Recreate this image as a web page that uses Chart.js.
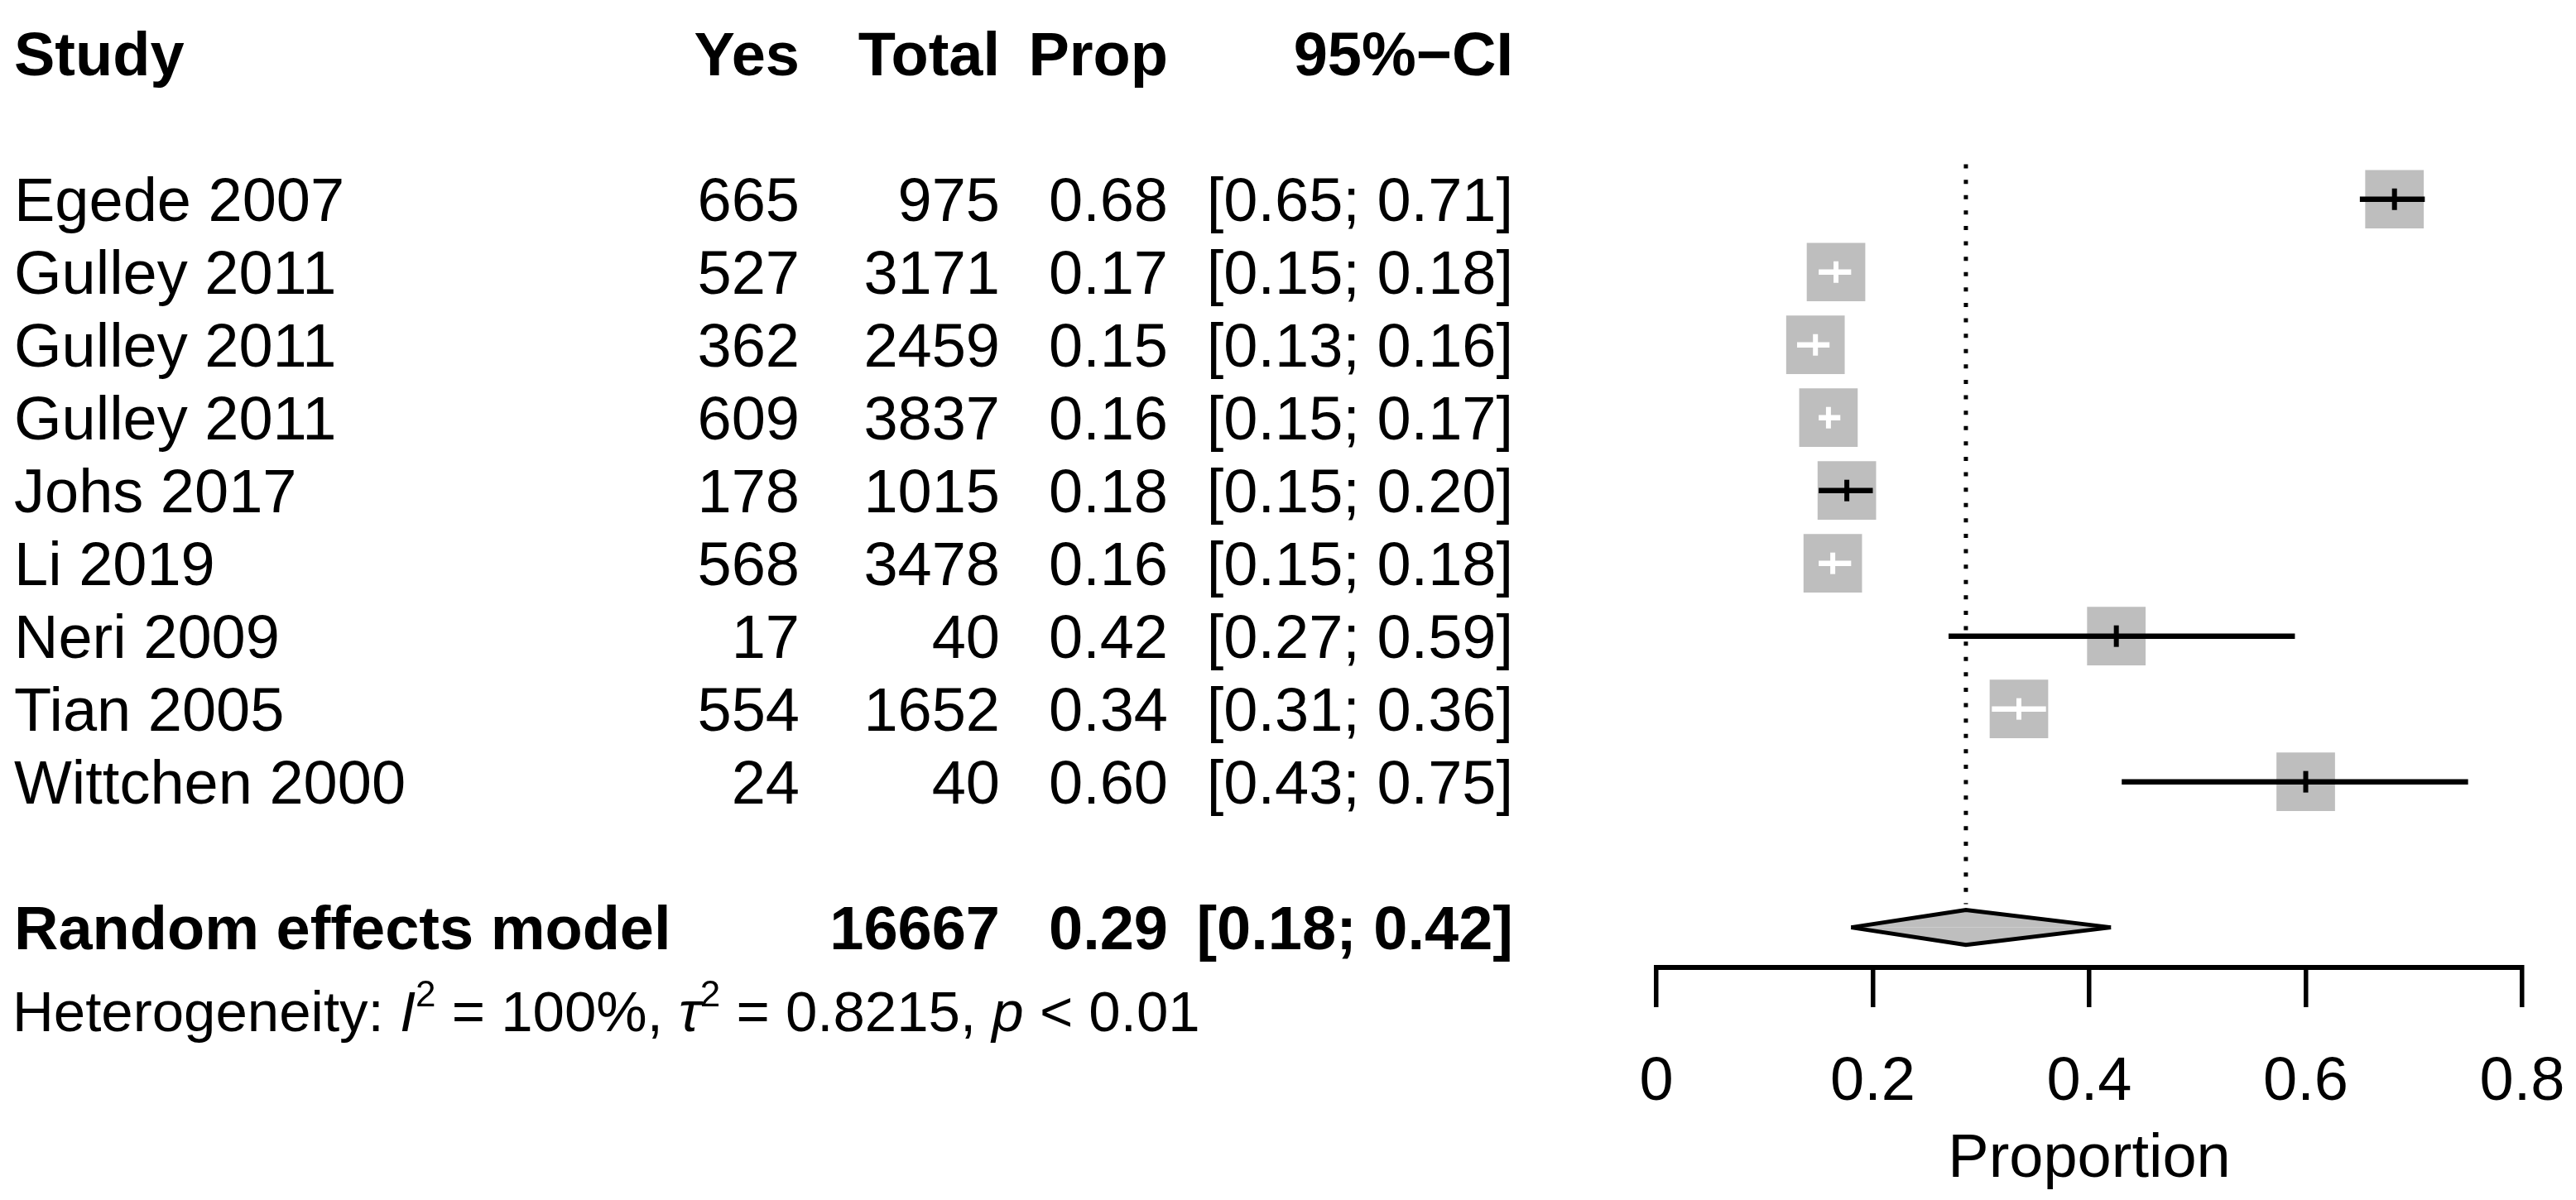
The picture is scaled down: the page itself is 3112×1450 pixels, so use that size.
<!DOCTYPE html>
<html>
<head>
<meta charset="utf-8">
<title>Forest plot</title>
<script src="https://cdn.jsdelivr.net/npm/chart.js"></script>
<style>
  html, body { margin: 0; padding: 0; background: #ffffff; }
  #grafica { display: block; }
</style>
</head>
<body>
<canvas id="grafica" width="3112" height="1450"></canvas>
<script>
// data
const studies = ["Egede 2007", "Gulley 2011", "Gulley 2011", "Gulley 2011", "Johs 2017", "Li 2019", "Neri 2009", "Tian 2005", "Wittchen 2000"]
const yes = [665, 527, 362, 609, 178, 568, 17, 554, 24]
const total = [975, 3171, 2459, 3837, 1015, 3478, 40, 1652, 40]
const prop = [0.682, 0.166, 0.147, 0.159, 0.176, 0.163, 0.425, 0.335, 0.600]
const ciLow = [0.65, 0.15, 0.13, 0.15, 0.15, 0.15, 0.27, 0.31, 0.43]
const ciHigh = [0.71, 0.18, 0.16, 0.17, 0.20, 0.18, 0.59, 0.36, 0.75]

const pooledLabel = "Random effects model"
const pooledTotal = 16667
const pooledProp = 0.286
const pooledLow = 0.18
const pooledHigh = 0.42

const headers = ["Study", "Yes", "Total", "Prop", "95%\u2212CI"]
const hetI2 = "100%"
const hetTau2 = "0.8215"
const hetP = "< 0.01"
const xTicks = ["0", "0.2", "0.4", "0.6", "0.8"]
const xTitle = "Proportion"

// layout / style
const headerRow = -2
const pooledRow = 10
const hetRow = 11.14
const refTop = -0.48
const refBottom = 9.68
const diamondHalf = 0.24
const whiteCi = [1, 2, 3, 5, 7]
const fontFamily = "'Liberation Sans', Arial, sans-serif"
const fontSize = 74
const gris = "#BEBEBE"

Chart.defaults.font.family = fontFamily
Chart.defaults.color = "#000000"

const ciPoints = (white) => {
    const pts = []
    studies.forEach((s, i) => {
        if (whiteCi.includes(i) === white) {
            pts.push({x: ciLow[i], y: i}, {x: ciHigh[i], y: i}, {x: null, y: null})
        }
    })
    return pts
}

const tablaPlugin = {
    id: "tabla",
    afterDraw(chart) {
        const ctx = chart.ctx
        const yScale = chart.scales.y
        const shift = fontSize * 0.358
        const base = (row) => yScale.getPixelForValue(row) + shift
        const normal = `${fontSize}px ${fontFamily}`
        const bold = `bold ${fontSize}px ${fontFamily}`
        const cols = [17, 966, 1208, 1411, 1828]

        const write = (text, x, y, font, align) => {
            ctx.font = font
            ctx.textAlign = align
            ctx.fillText(text, x, y)
        }

        ctx.save()
        ctx.fillStyle = "#000000"
        ctx.textBaseline = "alphabetic"

        // header
        headers.forEach((h, k) => {
            write(h, cols[k], base(headerRow), bold, k === 0 ? "left" : "right")
        })

        // studies
        studies.forEach((s, i) => {
            const y = base(i)
            write(s, cols[0], y, normal, "left")
            write(String(yes[i]), cols[1], y, normal, "right")
            write(String(total[i]), cols[2], y, normal, "right")
            write(prop[i].toFixed(2), cols[3], y, normal, "right")
            write(`[${ciLow[i].toFixed(2)}; ${ciHigh[i].toFixed(2)}]`, cols[4], y, normal, "right")
        })

        // pooled
        const yp = base(pooledRow)
        write(pooledLabel, cols[0], yp, bold, "left")
        write(String(pooledTotal), cols[2], yp, bold, "right")
        write(pooledProp.toFixed(2), cols[3], yp, bold, "right")
        write(`[${pooledLow.toFixed(2)}; ${pooledHigh.toFixed(2)}]`, cols[4], yp, bold, "right")

        // heterogeneity
        const hs = 69
        const hNormal = `${hs}px ${fontFamily}`
        const hItalic = `italic ${hs}px ${fontFamily}`
        const hSup = `${Math.round(hs * 0.64)}px ${fontFamily}`
        const yh = yScale.getPixelForValue(hetRow) + hs * 0.358
        const parts = [
            ["Heterogeneity: ", hNormal, 0],
            ["I", hItalic, 0],
            ["2", hSup, -30],
            [` = ${hetI2}, `, hNormal, 0],
            ["\u03C4", hItalic, 0],
            ["2", hSup, -30],
            [` = ${hetTau2}, `, hNormal, 0],
            ["p", hItalic, 0],
            [` ${hetP}`, hNormal, 0]
        ]
        let x = 15
        ctx.textAlign = "left"
        parts.forEach(([t, f, dy]) => {
            ctx.font = f
            ctx.fillText(t, x, yh + dy)
            x += ctx.measureText(t).width
        })
        ctx.restore()
    }
}

const grafDOM = document.querySelector("#grafica")
const config = {
    type: "scatter",
    data: {
        datasets: [
            {
                label: "ref",
                data: [{x: pooledProp, y: refTop}, {x: pooledProp, y: refBottom}],
                showLine: true,
                borderColor: "#000000",
                borderWidth: 5,
                borderDash: [5, 13.6],
                pointRadius: 0,
                order: 6
            },
            {
                label: "squares",
                data: studies.map((s, i) => ({x: prop[i], y: i})),
                pointStyle: "rect",
                pointRadius: 50,
                pointBackgroundColor: gris,
                pointBorderWidth: 0,
                order: 5
            },
            {
                label: "ci black",
                data: ciPoints(false),
                showLine: true,
                borderColor: "#000000",
                borderWidth: 6.5,
                pointRadius: 0,
                order: 4
            },
            {
                label: "ci white",
                data: ciPoints(true),
                showLine: true,
                borderColor: "#ffffff",
                borderWidth: 6.5,
                pointRadius: 0,
                order: 4
            },
            {
                label: "estimate",
                data: studies.map((s, i) => ({x: prop[i], y: i})),
                pointStyle: "line",
                rotation: 90,
                pointRadius: 13,
                pointBorderWidth: 6,
                pointBorderColor: studies.map((s, i) => whiteCi.includes(i) ? "#ffffff" : "#000000"),
                order: 3
            },
            {
                label: "diamond top",
                data: [{x: pooledLow, y: pooledRow}, {x: pooledProp, y: pooledRow - diamondHalf}, {x: pooledHigh, y: pooledRow}],
                showLine: true,
                fill: {value: pooledRow},
                backgroundColor: gris,
                borderColor: "#000000",
                borderWidth: 5,
                pointRadius: 0,
                order: 2
            },
            {
                label: "diamond bottom",
                data: [{x: pooledLow, y: pooledRow}, {x: pooledProp, y: pooledRow + diamondHalf}, {x: pooledHigh, y: pooledRow}],
                showLine: true,
                fill: {value: pooledRow},
                backgroundColor: gris,
                borderColor: "#000000",
                borderWidth: 5,
                pointRadius: 0,
                order: 2
            }
        ]
    },
    options: {
        responsive: false,
        animation: false,
        events: [],
        layout: {autoPadding: false, padding: {left: 2001, right: 65, top: 12, bottom: 0}},
        plugins: {
            legend: {display: false},
            tooltip: {enabled: false}
        },
        scales: {
            x: {
                type: "linear",
                min: 0,
                max: 0.8,
                afterFit: (scale) => {
                    scale.height = 281
                    scale.paddingLeft = 0
                    scale.paddingRight = 0
                },
                ticks: {
                    stepSize: 0.2,
                    padding: 47,
                    font: {size: fontSize},
                    color: "#000000",
                    callback: (v, i) => xTicks[i]
                },
                grid: {
                    drawOnChartArea: false,
                    drawTicks: true,
                    tickLength: 48,
                    color: "#000000",
                    lineWidth: 5.5
                },
                border: {display: true, color: "#000000", width: 6},
                title: {
                    display: true,
                    text: xTitle,
                    font: {size: fontSize},
                    color: "#000000",
                    padding: {top: 0, bottom: 4}
                }
            },
            y: {
                type: "linear",
                display: false,
                reverse: true,
                min: -2.6,
                max: 10.55
            }
        }
    },
    plugins: [tablaPlugin]
}
const miGraf = new Chart(grafDOM, config)
</script>
</body>
</html>
